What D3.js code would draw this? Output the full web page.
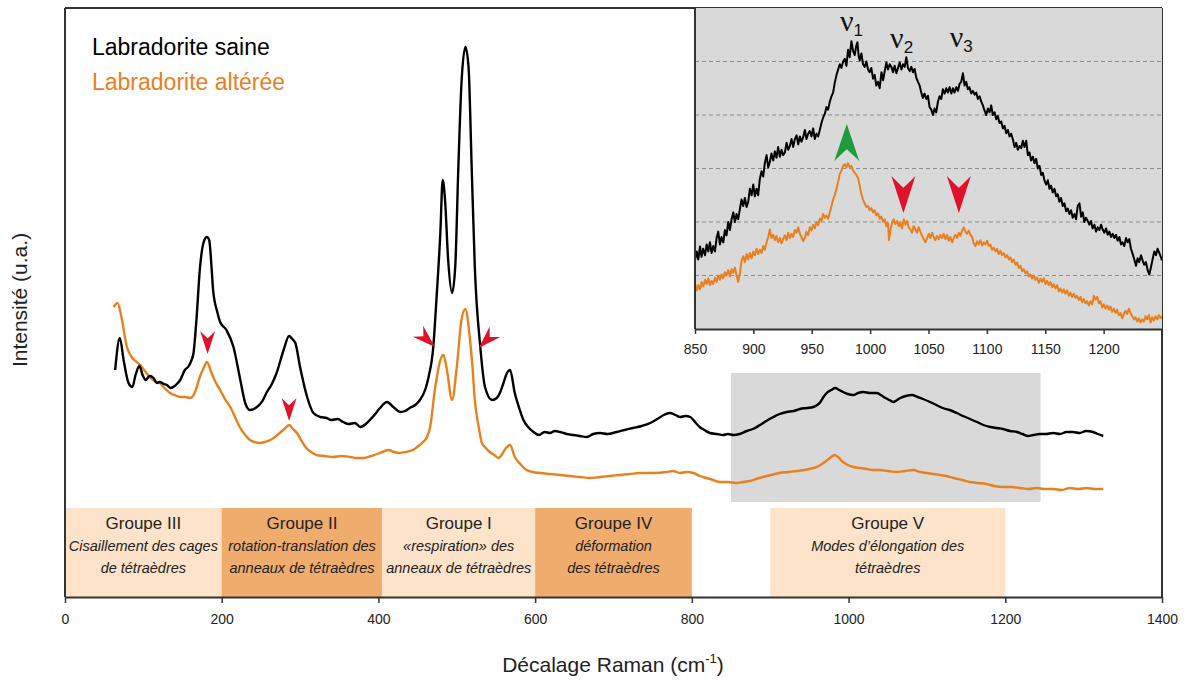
<!DOCTYPE html>
<html><head><meta charset="utf-8">
<script src="https://cdn.jsdelivr.net/npm/d3@7"></script>
<style>
body{margin:0;background:#fff}
text{font-family:"Liberation Sans",Arial,sans-serif}
</style>
</head><body>
<svg id="c" width="1191" height="688"></svg>
<script>
// ---------------- DATA ----------------
const xTicksMain = [0,200,400,600,800,1000,1200,1400];
const xTicksInset = [850,900,950,1000,1050,1100,1150,1200];
const insetGrid = [1,2,3,4,5];
const legendLabels = ["Labradorite saine","Labradorite altérée"];
const xTitle = "Décalage Raman (cm";
const yTitle = "Intensité (u.a.)";

// Main spectra: [Raman shift cm-1, intensity a.u.]
const saine = [[64,227],[70,259],[75,236],[81,214],[86,210],[90,222],[95,231],[99,222],[103,217],[108,221],[113,219],[117,214],[121,215],[126,213],[130,212],[135,209],[140,211],[144,214],[147,217],[153,227],[158,231],[160,234],[164,244],[168,280],[172,327],[177,355],[181,360],[184,357],[187,330],[189,307],[194,286],[198,275],[206,267],[215,250],[223,220],[230,194],[236,187],[245,190],[252,196],[257,204],[264,213],[270,224],[279,247],[286,261],[290,258],[294,254],[300,230],[309,200],[317,184],[326,180],[334,179],[340,177],[348,178],[355,175],[362,173],[370,174],[377,170],[384,173],[389,177],[396,183],[402,189],[411,195],[419,190],[428,185],[434,186],[440,189],[447,192],[453,197],[460,208],[464,220],[470,250],[474,297],[479,364],[482,417],[485,397],[489,337],[494,304],[498,330],[502,430],[506,514],[511,550],[515,530],[519,430],[523,330],[530,250],[536,210],[545,197],[551,199],[555,204],[560,215],[564,224],[568,227],[574,204],[580,188],[585,177],[591,170],[598,165],[605,162],[612,165],[619,164],[625,166],[632,165],[640,163],[649,162],[657,161],[666,160],[674,163],[683,164],[692,163],[704,165],[714,167],[725,169],[736,171],[747,174],[756,178],[764,182],[772,184],[779,182],[785,180],[792,181],[798,180],[804,175],[810,170],[816,167],[823,164],[832,163],[840,162],[846,163],[853,162],[861,163],[870,166],[878,168],[887,172],[895,176],[904,180],[912,183],[921,185],[930,186],[938,188],[947,189],[955,190],[960,192],[964,195],[968,200],[972,204],[978,207],[983,209],[988,207],[993,205],[999,203],[1006,202],[1012,204],[1019,205],[1027,204],[1036,204],[1041,202],[1047,199],[1052,197],[1057,195],[1062,197],[1066,199],[1073,201],[1081,202],[1088,200],[1095,198],[1104,195],[1112,192],[1120,189],[1129,187],[1138,184],[1146,181],[1155,178],[1164,175],[1172,172],[1181,170],[1189,169],[1197,168],[1206,166],[1215,165],[1222,163],[1229,161],[1236,162],[1244,163],[1252,163],[1261,164],[1270,163],[1278,165],[1286,165],[1295,164],[1303,166],[1312,165],[1318,163],[1325,161]];

const alteree = [[62,290],[67,294],[72,280],[79,250],[85,240],[90,236],[96,232],[102,226],[108,220],[114,216],[121,214],[127,209],[134,204],[140,202],[147,200],[153,200],[160,199],[166,205],[172,220],[177,229],[181,235],[187,224],[192,215],[198,207],[204,198],[211,190],[217,180],[223,170],[230,162],[236,157],[242,155],[249,154],[255,155],[262,157],[268,160],[274,164],[280,168],[286,172],[291,168],[296,164],[302,156],[308,149],[314,145],[321,142],[331,141],[342,140],[353,141],[364,140],[372,139],[381,139],[391,141],[402,144],[408,146],[413,147],[420,145],[427,144],[435,145],[444,147],[451,151],[457,155],[462,160],[466,170],[472,207],[476,226],[479,237],[483,242],[487,229],[494,197],[500,230],[506,277],[511,288],[516,264],[520,230],[523,197],[528,170],[532,154],[537,149],[542,145],[548,142],[553,139],[558,143],[561,147],[568,152],[574,140],[581,133],[589,127],[597,125],[606,124],[619,123],[632,122],[644,121],[657,120],[670,119],[683,120],[695,121],[708,122],[721,123],[734,124],[751,124],[768,125],[776,126],[785,124],[793,125],[802,124],[810,121],[819,119],[827,117],[836,115],[846,115],[857,114],[865,115],[874,116],[882,118],[891,120],[901,122],[912,124],[923,125],[934,126],[944,127],[955,129],[962,131],[968,134],[973,137],[978,140],[982,142],[985,141],[989,138],[993,135],[999,132],[1006,130],[1015,129],[1023,128],[1031,127],[1040,127],[1050,126],[1061,125],[1072,126],[1083,127],[1091,125],[1100,124],[1108,123],[1117,122],[1125,121],[1134,119],[1145,117],[1155,115],[1165,114],[1176,113],[1186,111],[1197,110],[1208,110],[1219,109],[1230,108],[1240,109],[1250,108],[1261,108],[1272,107],[1282,109],[1293,108],[1304,109],[1314,108],[1325,108]];

// Inset spectra (850-1250 cm-1)
const saineInset = [[850,1.29],[851.5,1.45],[852.8,1.30],[854.3,1.54],[855.6,1.35],[857,1.50],[858.6,1.38],[860,1.58],[861.4,1.45],[862.8,1.62],[864.2,1.42],[865.6,1.55],[867.1,1.45],[868.5,1.70],[869.9,1.82],[871.3,1.58],[872.7,1.72],[874.2,1.62],[875.6,1.85],[877,1.75],[878.5,2.00],[879.9,1.85],[881.3,2.05],[882.8,2.18],[884.2,2.00],[885.6,2.15],[887,2.05],[888.5,2.25],[889.9,2.42],[891.3,2.30],[892.7,2.45],[894.2,2.28],[895.6,2.38],[897,2.62],[898.5,2.50],[899.9,2.70],[901.3,2.48],[902.7,2.62],[904.1,2.50],[905.5,2.80],[907,2.95],[908.4,2.85],[909.8,3.10],[911.3,3.25],[912.7,3.02],[914.1,3.12],[915.5,3.28],[917,3.15],[918.4,3.32],[919.8,3.20],[921.2,3.40],[922.7,3.22],[924.1,3.35],[925.5,3.25],[927,3.30],[928.4,3.48],[929.8,3.35],[931.2,3.42],[932.7,3.55],[934.1,3.40],[935.5,3.55],[937,3.62],[938.4,3.45],[939.8,3.60],[941.2,3.50],[942.6,3.58],[944.1,3.72],[945.5,3.55],[946.9,3.65],[948.3,3.70],[949.8,3.60],[951.2,3.75],[952.6,3.55],[954,3.65],[955.5,3.60],[956.9,3.72],[958.3,3.85],[959.7,3.95],[961.2,4.02],[962.6,4.15],[964,4.10],[965.5,4.25],[966.9,4.35],[968.3,4.42],[969.7,4.60],[971.2,4.75],[972.6,4.85],[974,4.95],[975.4,4.88],[976.9,5.00],[978.3,5.05],[979.7,4.92],[981.1,5.22],[982.5,5.08],[984,5.38],[985.4,5.20],[986.8,5.12],[988.2,5.30],[989.1,5.36],[990.2,5.10],[991.1,5.02],[992.5,5.15],[993.9,4.95],[995.3,4.90],[996.8,5.00],[998.2,4.85],[999.6,4.80],[1001,4.88],[1002.5,4.68],[1003.9,4.75],[1005.3,4.55],[1006.8,4.62],[1008.2,4.50],[1009.7,4.80],[1011.1,4.65],[1012.5,4.82],[1013.9,4.98],[1015.3,4.85],[1016.8,4.95],[1018.2,4.90],[1019.6,4.80],[1021,4.92],[1022.5,4.78],[1023.9,4.88],[1025.3,4.98],[1026.8,4.85],[1028.2,4.95],[1029.6,4.90],[1031,5.08],[1032.4,4.88],[1033.9,4.82],[1035.3,4.90],[1036.7,4.80],[1038.1,4.86],[1039.5,4.70],[1041,4.62],[1042.4,4.55],[1043.8,4.42],[1045.2,4.32],[1046.6,4.40],[1048.1,4.30],[1049.5,4.36],[1050.9,4.15],[1052.4,4.10],[1053.8,4.00],[1055.2,4.12],[1056.6,4.05],[1058.1,4.25],[1059.5,4.35],[1060.9,4.30],[1062.3,4.48],[1063.7,4.40],[1065.2,4.50],[1066.6,4.42],[1068.1,4.52],[1069.5,4.40],[1070.9,4.50],[1072.3,4.42],[1073.8,4.52],[1075.2,4.45],[1076.6,4.58],[1078,4.62],[1079.5,4.78],[1080.9,4.55],[1082.3,4.62],[1083.7,4.48],[1085.1,4.52],[1086.6,4.40],[1088,4.45],[1089.5,4.38],[1090.9,4.42],[1092.3,4.30],[1093.8,4.35],[1095.2,4.25],[1096.6,4.18],[1098,4.08],[1099.5,4.00],[1100.9,4.12],[1102.3,4.05],[1103.7,4.18],[1105.1,4.00],[1106.6,4.05],[1108,3.92],[1109.4,3.98],[1110.8,3.85],[1112.3,3.88],[1113.7,3.75],[1115.1,3.80],[1116.6,3.66],[1118,3.72],[1119.4,3.60],[1120.8,3.65],[1122.2,3.55],[1123.7,3.40],[1125.1,3.48],[1126.5,3.35],[1128,3.42],[1129.4,3.38],[1130.8,3.52],[1132.2,3.40],[1133.7,3.52],[1135.1,3.25],[1136.5,3.30],[1137.9,3.15],[1139.4,3.22],[1140.8,3.10],[1142.2,3.18],[1143.6,3.00],[1145.1,3.05],[1146.5,2.88],[1147.9,2.92],[1149.3,2.78],[1150.8,2.70],[1152.2,2.78],[1153.6,2.62],[1155,2.68],[1156.4,2.55],[1157.9,2.62],[1159.3,2.48],[1160.7,2.52],[1162.1,2.38],[1163.5,2.45],[1165,2.30],[1166.4,2.35],[1167.9,2.20],[1169.3,2.25],[1170.7,2.15],[1172.1,2.22],[1173.5,2.08],[1175,2.15],[1176.4,2.05],[1177.8,2.30],[1179.3,2.35],[1180.7,2.10],[1182.1,2.18],[1183.5,2.00],[1184.9,2.08],[1186.4,2.02],[1187.8,1.95],[1189.2,2.02],[1190.6,1.88],[1192.1,1.95],[1193.5,1.82],[1194.9,1.90],[1196.4,1.85],[1197.8,1.95],[1199.2,1.86],[1200.6,1.80],[1202.1,1.88],[1203.5,1.76],[1204.9,1.82],[1206.3,1.72],[1207.8,1.78],[1209.2,1.70],[1210.6,1.76],[1212,1.65],[1213.5,1.72],[1214.9,1.58],[1216.3,1.62],[1217.7,1.55],[1219.2,1.70],[1220.6,1.62],[1222,1.68],[1223.4,1.50],[1224.9,1.40],[1226.3,1.30],[1227.7,1.18],[1229.1,1.32],[1230.5,1.25],[1232,1.38],[1233.4,1.28],[1234.8,1.20],[1236.2,1.25],[1237.7,1.10],[1239.1,1.02],[1240.5,1.15],[1241.9,1.30],[1243.4,1.45],[1244.8,1.38],[1246.2,1.50],[1247.7,1.42],[1249,1.35],[1250,1.28]];

const altereeInset = [[850,0.85],[851.4,0.72],[852.8,0.82],[854.3,0.74],[855.7,0.88],[857.1,0.80],[858.6,0.92],[860,0.84],[861.4,0.95],[862.8,0.82],[864.2,0.90],[865.6,0.84],[867.1,0.96],[868.5,0.88],[869.9,1.00],[871.3,0.92],[872.7,1.02],[874.2,0.95],[875.6,1.06],[877,1.00],[878.5,1.10],[879.9,0.98],[881.3,1.12],[882.8,1.05],[884.2,1.15],[885.6,1.00],[887,0.88],[888.5,1.05],[889.9,1.28],[891.3,1.36],[892.7,1.25],[894.2,1.40],[895.6,1.30],[897,1.42],[898.5,1.32],[899.9,1.45],[901.3,1.38],[902.7,1.50],[904.1,1.40],[905.5,1.48],[907,1.42],[908.4,1.55],[909.8,1.48],[911.3,1.62],[912.7,1.72],[914.1,1.86],[915.5,1.70],[917,1.76],[918.4,1.66],[919.8,1.74],[921.2,1.62],[922.7,1.70],[924.1,1.60],[925.5,1.68],[927,1.75],[928.4,1.66],[929.8,1.80],[931.2,1.70],[932.7,1.78],[934.1,1.72],[935.5,1.85],[937,1.80],[938.4,1.90],[939.8,1.78],[941.2,1.72],[942.6,1.64],[944.1,1.70],[945.5,1.82],[946.9,1.75],[948.3,1.90],[949.8,1.84],[951.2,1.95],[952.6,1.88],[954,2.00],[955.5,1.94],[956.9,2.06],[958.3,2.02],[959.7,2.15],[961.2,2.08],[962.6,2.12],[964,2.06],[965.5,2.18],[966.9,2.30],[968.3,2.42],[969.7,2.50],[971.2,2.62],[972.6,2.75],[974,2.90],[975.4,2.96],[976.9,3.05],[978.3,3.08],[979.7,3.02],[981.1,3.10],[982.5,3.02],[984,3.05],[985.4,2.96],[986.8,2.92],[988.2,2.88],[989.7,2.82],[991.1,2.68],[992.5,2.52],[993.9,2.42],[995.3,2.35],[996.8,2.28],[998.2,2.30],[999.6,2.22],[1001,2.26],[1002.5,2.18],[1003.9,2.22],[1005.3,2.12],[1006.8,2.16],[1008.2,2.06],[1009.6,2.10],[1011.1,2.00],[1012.5,2.05],[1013.9,1.92],[1015.3,1.98],[1016.2,1.66],[1017.4,1.85],[1018.8,1.98],[1020.2,2.05],[1021.6,1.96],[1023.1,2.02],[1024.5,1.92],[1025.9,1.98],[1027.3,1.88],[1028.8,2.05],[1030.2,1.95],[1031.6,2.02],[1033,1.90],[1034.5,1.86],[1035.9,1.80],[1037.3,1.92],[1038.8,1.86],[1040.2,1.80],[1041.6,1.90],[1043,1.82],[1044.5,1.74],[1045.9,1.68],[1047.3,1.62],[1048.8,1.70],[1050.2,1.78],[1051.6,1.70],[1053,1.80],[1054.5,1.72],[1055.9,1.66],[1057.3,1.74],[1058.8,1.68],[1060.2,1.76],[1061.6,1.70],[1063,1.78],[1064.5,1.68],[1065.9,1.76],[1067.3,1.65],[1068.8,1.72],[1070.2,1.62],[1071.6,1.70],[1073,1.76],[1074.5,1.70],[1075.9,1.80],[1077.3,1.74],[1078.8,1.84],[1080.2,1.90],[1081.6,1.82],[1083,1.78],[1084.5,1.84],[1085.9,1.76],[1087.3,1.72],[1088.8,1.60],[1090.2,1.55],[1091.6,1.64],[1093,1.58],[1094.5,1.66],[1095.9,1.56],[1097.3,1.62],[1098.8,1.58],[1100.2,1.65],[1101.6,1.55],[1103,1.58],[1104.5,1.48],[1105.9,1.52],[1107.3,1.45],[1108.8,1.50],[1110.2,1.40],[1111.6,1.46],[1113,1.38],[1114.5,1.42],[1115.9,1.34],[1117.3,1.38],[1118.8,1.30],[1120.2,1.34],[1121.6,1.25],[1123,1.30],[1124.5,1.20],[1125.9,1.24],[1127.3,1.14],[1128.8,1.18],[1130.2,1.08],[1131.6,1.12],[1133,1.04],[1134.5,1.08],[1135.9,0.98],[1137.3,1.02],[1138.8,0.94],[1140.2,1.00],[1141.6,0.92],[1143,0.96],[1144.5,0.86],[1145.9,0.94],[1147.3,0.88],[1148.8,0.95],[1150.2,0.84],[1151.6,0.90],[1153,0.82],[1154.5,0.88],[1155.9,0.78],[1157.3,0.84],[1158.8,0.76],[1160.2,0.82],[1161.6,0.70],[1163,0.76],[1164.5,0.68],[1165.9,0.74],[1167.3,0.66],[1168.8,0.72],[1170.2,0.62],[1171.6,0.68],[1173,0.60],[1174.5,0.66],[1175.9,0.58],[1177.3,0.62],[1178.8,0.54],[1180.2,0.60],[1181.6,0.50],[1183,0.56],[1184.5,0.48],[1185.9,0.52],[1187.3,0.44],[1188.8,0.52],[1190.2,0.46],[1191.6,0.62],[1193,0.55],[1194.5,0.60],[1195.9,0.48],[1197.3,0.52],[1198.8,0.40],[1200.2,0.46],[1201.6,0.38],[1203,0.44],[1204.5,0.36],[1205.9,0.42],[1207.3,0.32],[1208.8,0.38],[1210.2,0.30],[1211.6,0.36],[1213,0.26],[1214.5,0.30],[1215.9,0.20],[1217.3,0.28],[1218.8,0.34],[1220.2,0.28],[1221.6,0.38],[1223,0.30],[1224.5,0.24],[1225.9,0.18],[1227.3,0.22],[1228.8,0.14],[1230.2,0.20],[1231.6,0.12],[1233,0.18],[1234.5,0.14],[1235.9,0.24],[1237.3,0.18],[1238.8,0.26],[1240.2,0.12],[1241.6,0.22],[1243,0.16],[1244.5,0.24],[1245.9,0.18],[1247.3,0.26],[1248.8,0.20],[1250,0.24]];

// Vibrational-group bands along the Raman shift axis
const groupNames = ["Groupe III","Groupe II","Groupe I","Groupe IV","Groupe V"];
const groupFrom  = [0,200,405,600,900];
const groupTo    = [200,405,600,800,1200];
const groupDesc  = [
  ["Cisaillement des cages","de tétraèdres"],
  ["rotation-translation des","anneaux de tétraèdres"],
  ["«respiration» des","anneaux de tétraèdres"],
  ["déformation","des tétraèdres"],
  ["Modes d’élongation des","tétraèdres"]
];
const groupShade = ["#fce3c9","#f0ac6d","#fce3c9","#f0ac6d","#fce3c9"];

// Zoomed window shown in the inset
const zoomFrom = 850, zoomTo = 1245;
const zoomIntensity = [95,224];

// Annotations: arrows [shift, intensity, direction angle(deg, 0 = pointing down)]
const mainArrows = [[182,243,0],[286,176,0],[472,250,-47],[528,249,45]];
const insetArrowsRed = [[1028.5,2.17,0],[1076,2.17,0]];
const insetArrowsGreen = [[980,3.83,180]];
const nuLabels = [["1",984,5.57],["2",1027,5.25],["3",1078,5.27]];

// ---------------- CHART ----------------
const svg = d3.select("#c");
const L=65, R=1162, T=8, B=597;
const x = d3.scaleLinear().domain([0,1400]).range([L,R]);
const y = d3.scaleLinear().domain([0,589]).range([B,T]);

const BLACK="#000", ORANGE="#e8801e", RED="#e0112b", GREEN="#1f9b3b", GRAY="#d9d9d9", AX="#333";

// group boxes
const gb = svg.append("g");
groupNames.forEach((n,i)=>{
  const x0=x(groupFrom[i]), x1=x(groupTo[i]), cx=(x0+x1)/2;
  gb.append("rect").attr("x",x0).attr("y",508).attr("width",x1-x0).attr("height",B-508).attr("fill",groupShade[i]);
  gb.append("text").attr("x",cx).attr("y",529).attr("text-anchor","middle").attr("font-size",17).attr("fill","#222").text(n);
  groupDesc[i].forEach((s,j)=>{
    gb.append("text").attr("x",cx).attr("y",551+j*22).attr("text-anchor","middle").attr("font-size",14.5)
      .attr("font-style","italic").attr("fill","#222").text(s);
  });
});

// gray zoom window
svg.append("rect").attr("x",x(zoomFrom)).attr("y",y(zoomIntensity[1])).attr("width",x(zoomTo)-x(zoomFrom))
  .attr("height",y(zoomIntensity[0])-y(zoomIntensity[1])).attr("fill",GRAY);

// spectra
const line = d3.line().x(d=>x(d[0])).y(d=>y(d[1])).curve(d3.curveMonotoneX);
svg.append("path").datum(alteree).attr("d",line).attr("fill","none").attr("stroke",ORANGE).attr("stroke-width",2.4).attr("stroke-linejoin","round");
svg.append("path").datum(saine).attr("d",line).attr("fill","none").attr("stroke",BLACK).attr("stroke-width",2.4).attr("stroke-linejoin","round");

// arrow glyph
function arrow(g, px, py, ang, w, h, col){
  const p = `M0,0 L${-w/2},${-h} Q${-w/6},${-h*0.78} 0,${-h*0.68} Q${w/6},${-h*0.78} ${w/2},${-h} Z`;
  g.append("path").attr("d",p).attr("fill",col).attr("transform",`translate(${px},${py}) rotate(${ang})`);
}
mainArrows.forEach(a=>arrow(svg,x(a[0]),y(a[1]),a[2],15,23,RED));

// axes
svg.append("g").attr("transform",`translate(0,${B})`)
  .call(d3.axisBottom(x).tickValues(xTicksMain).tickSize(6).tickSizeOuter(0).tickFormat(d3.format("d")))
  .call(g=>{g.select(".domain").attr("stroke",AX).attr("stroke-width",2);
    g.selectAll(".tick line").attr("stroke",AX).attr("stroke-width",1.5);
    g.selectAll(".tick text").attr("font-size",14).attr("fill","#222").attr("dy","1.25em").attr("font-family","Liberation Sans, Arial");});
svg.append("line").attr("x1",L).attr("x2",L).attr("y1",T).attr("y2",B).attr("stroke",AX).attr("stroke-width",2);
svg.append("line").attr("x1",L).attr("x2",R).attr("y1",T).attr("y2",T).attr("stroke",AX).attr("stroke-width",2);
svg.append("line").attr("x1",R).attr("x2",R).attr("y1",T).attr("y2",B).attr("stroke",AX).attr("stroke-width",2);

// titles
const xt = svg.append("text").attr("x",613).attr("y",672).attr("text-anchor","middle").attr("font-size",21).attr("fill","#222");
xt.append("tspan").text(xTitle);
xt.append("tspan").attr("font-size",13).attr("dy",-9).text("-1");
xt.append("tspan").attr("dy",9).text(")");
svg.append("text").attr("transform","translate(27,300) rotate(-90)").attr("text-anchor","middle").attr("font-size",21).attr("fill","#222").text(yTitle);

// legend
const legendColors=[BLACK,ORANGE];
legendLabels.forEach((s,i)=>svg.append("text").attr("x",92).attr("y",55+i*35).attr("font-size",23).attr("fill",legendColors[i]).text(s));

// ---------------- INSET ----------------
const IL=695, IR=1162, IT=8, IB=329;
const xi = d3.scaleLinear().domain([850,1250]).range([IL,IR]);
const yi = d3.scaleLinear().domain([0,6]).range([IB,IT]);
const ins = svg.append("g");
ins.append("rect").attr("x",IL).attr("y",IT).attr("width",IR-IL).attr("height",IB-IT).attr("fill",GRAY);
ins.selectAll(".grid").data(insetGrid).join("line").attr("x1",IL).attr("x2",IR).attr("y1",d=>yi(d)).attr("y2",d=>yi(d))
  .attr("stroke","#8c8c8c").attr("stroke-width",1).attr("stroke-dasharray","4,3");
svg.append("clipPath").attr("id","ic").append("rect").attr("x",IL).attr("y",IT).attr("width",IR-IL).attr("height",IB-IT);
const li = d3.line().x(d=>xi(d[0])).y(d=>yi(d[1]));
ins.append("path").datum(altereeInset).attr("d",li).attr("fill","none").attr("stroke",ORANGE).attr("stroke-width",2).attr("stroke-linejoin","round").attr("clip-path","url(#ic)");
ins.append("path").datum(saineInset).attr("d",li).attr("fill","none").attr("stroke",BLACK).attr("stroke-width",2).attr("stroke-linejoin","round").attr("clip-path","url(#ic)");
insetArrowsRed.forEach(a=>arrow(ins,xi(a[0]),yi(a[1]),a[2],24,37,RED));
insetArrowsGreen.forEach(a=>arrow(ins,xi(a[0]),yi(a[1]),a[2],25,37,GREEN));
nuLabels.forEach(n=>{
  const t=ins.append("text").attr("x",xi(n[1])).attr("y",yi(n[2])).attr("text-anchor","middle").attr("fill","#111");
  t.append("tspan").attr("font-size",30).attr("font-family","Liberation Serif, serif").text("ν");
  t.append("tspan").attr("font-size",17).attr("dy",5).text(n[0]);
});
ins.append("line").attr("x1",IL).attr("x2",IL).attr("y1",IT).attr("y2",IB).attr("stroke",AX).attr("stroke-width",2);
ins.append("g").attr("transform",`translate(0,${IB})`)
  .call(d3.axisBottom(xi).tickValues(xTicksInset).tickSize(5).tickSizeOuter(0).tickFormat(d3.format("d")))
  .call(g=>{g.select(".domain").attr("stroke",AX).attr("stroke-width",2);
    g.selectAll(".tick line").attr("stroke",AX).attr("stroke-width",1.5);
    g.selectAll(".tick text").attr("font-size",14).attr("fill","#222").attr("dy","1.2em").attr("font-family","Liberation Sans, Arial");});
ins.append("line").attr("x1",IR).attr("x2",IR).attr("y1",IB).attr("y2",IB+5).attr("stroke",AX).attr("stroke-width",1.5);
</script>
</body></html>
